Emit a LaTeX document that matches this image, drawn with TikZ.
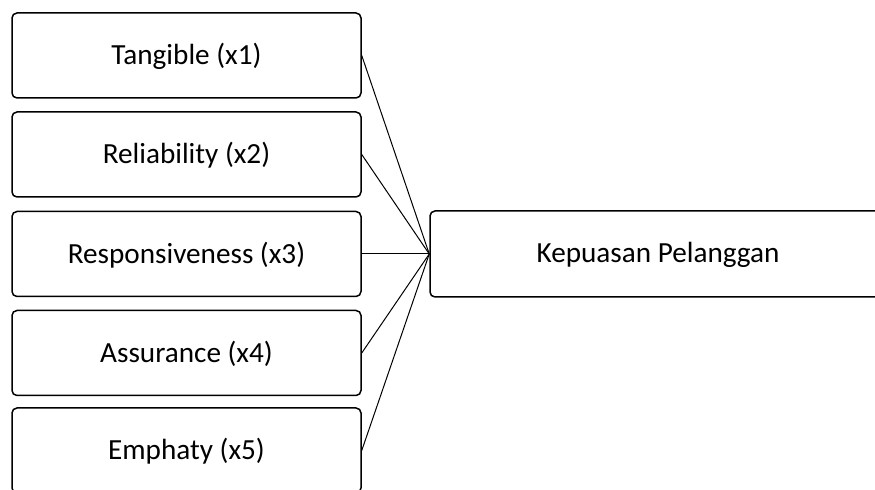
\documentclass[tikz,border=0pt]{standalone}
\usepackage{fontspec}
\setmainfont{Carlito}
\begin{document}
\begin{tikzpicture}[x=0.5pt,y=-0.5pt,
  varbox/.style={draw=black, line width=0.75pt, rounded corners=2.5pt, minimum width=174.5pt, minimum height=42.5pt, inner sep=0pt, font=\fontsize{14.6}{17}\selectfont, align=center, text depth=1.5pt},
  link/.style={draw=black, line width=0.5pt}]
\useasboundingbox (0,0) rectangle (875,490);
\clip (0,0) rectangle (875,490);
\node[varbox] (b1) at (186.5,55.5) {Tangible (x1)};
\node[varbox] (b2) at (186.5,154.5) {Reliability (x2)};
\node[varbox] (b3) at (186.5,254) {Responsiveness (x3)};
\node[varbox] (b4) at (186.5,353) {Assurance (x4)};
\node[varbox] (b5) at (186.5,450.5) {Emphaty (x5)};
\node[varbox, minimum width=228pt, minimum height=43pt] (y) at (658,254) {Kepuasan Pelanggan};
\foreach \b in {b1,b2,b3,b4,b5}{
  \draw[link] (\b.east) -- (y.west);
}
\end{tikzpicture}
\end{document}
